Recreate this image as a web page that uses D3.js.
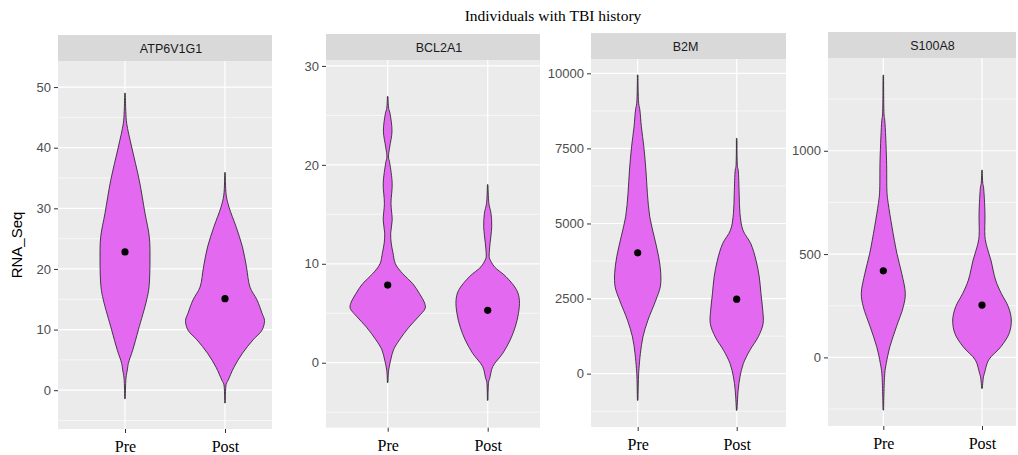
<!DOCTYPE html>
<html>
<head>
<meta charset="utf-8">
<script src="https://cdn.jsdelivr.net/npm/d3@7"></script>
<style>
  body { margin: 0; background: #fff; }
  svg { display: block; }
  .tick text { font-family: "Liberation Sans", Arial, sans-serif; }
</style>
</head>
<body>
<svg id="chart" width="1018" height="455"></svg>
<script>
// ---- data ----
const categories = ['Pre', 'Post'];
const genes = ['ATP6V1G1', 'BCL2A1', 'B2M', 'S100A8'];

// y tick labels per gene
const yTicks = [
  [0, 10, 20, 30, 40, 50],
  [0, 10, 20, 30],
  [0, 2500, 5000, 7500, 10000],
  [0, 500, 1000]
];
// axis limits per gene
const yLimits = [
  [-6.4, 54.3],
  [-6.57, 30.6],
  [-1777, 10477],
  [-332, 1449]
];

// group means (black dots)
const meanPre = [22.8, 7.85, 4022, 419];
const meanPost = [15.1, 5.3, 2478, 253];

// violin outlines: [value, half width as a share of the gap between groups]
const atpPre = [[-1.4, 0.003], [2.0, 0.01], [3.5, 0.025], [4.4, 0.033], [6.6, 0.077], [9.9, 0.133], [14.9, 0.217], [17, 0.24], [21.5, 0.25], [25.3, 0.243], [29.2, 0.2], [34.6, 0.143], [40.1, 0.067], [44, 0.017], [46, 0.008], [49, 0.003]];
const atpPost = [[-2.1, 0.003], [1.0, 0.012], [1.6, 0.03], [3.8, 0.09], [6.1, 0.175], [8.3, 0.28], [9.9, 0.37], [11.5, 0.395], [12.7, 0.37], [14.9, 0.32], [17, 0.25], [20.3, 0.215], [23.6, 0.175], [27, 0.11], [30.2, 0.04], [32.2, 0.012], [35.9, 0.003]];
const bclPre = [[-2.0, 0.003], [-0.74, 0.01], [0.27, 0.03], [1.3, 0.058], [2.3, 0.117], [3.6, 0.213], [4.65, 0.308], [5.5, 0.375], [6.0, 0.37], [7.0, 0.317], [8.0, 0.25], [9.0, 0.15], [10, 0.077], [11.1, 0.053], [12.1, 0.035], [13.1, 0.03], [14.4, 0.045], [16.1, 0.033], [18.1, 0.045], [20.2, 0.02], [20.8, 0.008], [21.8, 0.02], [23.4, 0.043], [25.2, 0.023], [25.7, 0.01], [26.9, 0.003]];
const bclPost = [[-3.8, 0.003], [-1.9, 0.01], [-1.6, 0.02], [-0.4, 0.05], [0.94, 0.15], [2.3, 0.225], [3.6, 0.275], [5.0, 0.308], [6.3, 0.317], [7.3, 0.292], [8.7, 0.183], [9.7, 0.067], [10.5, 0.02], [10.7, 0.015], [11.7, 0.02], [13.75, 0.04], [15.1, 0.033], [16.1, 0.012], [18.0, 0.003]];
const b2mPre = [[-889, 0.003], [-111, 0.008], [167, 0.013], [667, 0.027], [1222, 0.053], [1778, 0.103], [2444, 0.183], [2889, 0.228], [3333, 0.233], [3889, 0.212], [4556, 0.167], [5222, 0.122], [6000, 0.098], [6778, 0.083], [7556, 0.062], [8222, 0.037], [8778, 0.022], [9000, 0.01], [9944, 0.003]];
const b2mPost = [[-1222, 0.003], [-556, 0.015], [-111, 0.033], [333, 0.067], [778, 0.133], [1222, 0.217], [1667, 0.267], [2111, 0.263], [2667, 0.245], [3222, 0.228], [3778, 0.195], [4333, 0.142], [4778, 0.063], [5333, 0.033], [6000, 0.025], [6778, 0.015], [6889, 0.008], [7833, 0.003]];
const s100Pre = [[-255, 0.003], [-77, 0.015], [-29, 0.03], [52, 0.067], [148, 0.133], [245, 0.203], [310, 0.223], [406, 0.187], [503, 0.138], [632, 0.088], [745, 0.05], [794, 0.038], [955, 0.033], [1148, 0.015], [1173, 0.008], [1366, 0.003]];
const s100Post = [[-150, 0.003], [-94, 0.015], [-77, 0.025], [-13, 0.067], [52, 0.192], [116, 0.275], [181, 0.297], [245, 0.267], [310, 0.195], [374, 0.138], [471, 0.09], [535, 0.05], [584, 0.03], [697, 0.03], [826, 0.015], [842, 0.008], [906, 0.003]];

const violinsPre = [atpPre, bclPre, b2mPre, s100Pre];
const violinsPost = [atpPost, bclPost, b2mPost, s100Post];

// ---- layout (pixels) ----
const panels = [
  {left: 58, right: 272, stripTop: 35, top: 61, bottom: 429, preX: 125, postX: 225, labelX: 171},
  {left: 326, right: 540, stripTop: 34, top: 60, bottom: 427.7, preX: 387.7, postX: 487.7, labelX: 439},
  {left: 591, right: 786, stripTop: 33, top: 59, bottom: 427, preX: 637.7, postX: 736.7, labelX: 685.5},
  {left: 828, right: 1016, stripTop: 32, top: 58, bottom: 426, preX: 883.3, postX: 982, labelX: 932.5}
];

const violinFill = '#e36af0';
const svg = d3.select('#chart');

svg.append('text')
  .attr('x', 553)
  .attr('y', 21)
  .attr('text-anchor', 'middle')
  .style('font-family', '"Liberation Serif", "Times New Roman", serif')
  .style('font-size', '15.5px')
  .attr('fill', '#000')
  .text('Individuals with TBI history');

svg.append('text')
  .attr('transform', 'translate(22,245) rotate(-90)')
  .attr('text-anchor', 'middle')
  .style('font-family', '"Liberation Sans", Arial, sans-serif')
  .style('font-size', '15px')
  .attr('fill', '#000')
  .text('RNA_Seq');

genes.forEach((gene, i) => {
  const p = panels[i];
  const g = svg.append('g');

  const y = d3.scaleLinear().domain(yLimits[i]).range([p.bottom, p.top]);
  const x = d3.scalePoint().domain(categories).range([p.preX, p.postX]);
  const w = d3.scaleLinear().domain([0, 1]).range([0, p.postX - p.preX]);

  // panel background
  g.append('rect')
    .attr('x', p.left).attr('y', p.top)
    .attr('width', p.right - p.left).attr('height', p.bottom - p.top)
    .attr('fill', '#ebebeb');

  // strip
  g.append('rect')
    .attr('x', p.left).attr('y', p.stripTop)
    .attr('width', p.right - p.left).attr('height', p.top - p.stripTop)
    .attr('fill', '#d9d9d9');
  g.append('text')
    .attr('x', p.labelX)
    .attr('y', (p.stripTop + p.top) / 2)
    .attr('dy', '0.36em')
    .attr('text-anchor', 'middle')
    .style('font-family', '"Liberation Sans", Arial, sans-serif')
    .style('font-size', '12.5px')
    .attr('fill', '#1a1a1a')
    .text(gene);

  // grid lines: minor halfway between major ticks
  const ticks = yTicks[i];
  const step = ticks[1] - ticks[0];
  const minor = [];
  for (let v = ticks[0] - step / 2; v <= yLimits[i][1]; v += step) {
    if (v >= yLimits[i][0]) minor.push(v);
  }
  g.selectAll('.minor')
    .data(minor)
    .join('line')
    .attr('x1', p.left).attr('x2', p.right)
    .attr('y1', d => y(d)).attr('y2', d => y(d))
    .attr('stroke', '#fff').attr('stroke-width', 0.6);
  g.selectAll('.major')
    .data(ticks)
    .join('line')
    .attr('x1', p.left).attr('x2', p.right)
    .attr('y1', d => y(d)).attr('y2', d => y(d))
    .attr('stroke', '#fff').attr('stroke-width', 1.2);
  g.selectAll('.vgrid')
    .data(categories)
    .join('line')
    .attr('x1', d => x(d)).attr('x2', d => x(d))
    .attr('y1', p.top).attr('y2', p.bottom)
    .attr('stroke', '#fff').attr('stroke-width', 1.2);

  // violins
  const groups = [
    {cat: 'Pre', shape: violinsPre[i], mean: meanPre[i]},
    {cat: 'Post', shape: violinsPost[i], mean: meanPost[i]}
  ];
  groups.forEach(d => {
    const cx = x(d.cat);
    const area = d3.area()
      .curve(d3.curveCatmullRom.alpha(0.5))
      .y(e => y(e[0]))
      .x0(e => cx - w(e[1]))
      .x1(e => cx + w(e[1]));
    g.append('path')
      .attr('d', area(d.shape))
      .attr('fill', violinFill)
      .attr('stroke', '#1a1a1a')
      .attr('stroke-width', 0.8);
    g.append('circle')
      .attr('cx', cx).attr('cy', y(d.mean))
      .attr('r', 3.6)
      .attr('fill', '#000');
  });

  // axes
  const yAxis = d3.axisLeft(y).tickValues(ticks).tickFormat(d3.format('d')).tickSize(4).tickPadding(3);
  const yAxisG = g.append('g')
    .attr('transform', `translate(${p.left},0)`)
    .call(yAxis);
  yAxisG.select('.domain').remove();
  yAxisG.selectAll('.tick line').attr('stroke', '#333');
  yAxisG.selectAll('.tick text')
    .attr('fill', '#4d4d4d')
    .style('font-size', '13px');

  const xAxis = d3.axisBottom(x).tickSize(4).tickPadding(7.5);
  const xAxisG = g.append('g')
    .attr('transform', `translate(0,${p.bottom})`)
    .call(xAxis);
  xAxisG.select('.domain').remove();
  xAxisG.selectAll('.tick line').attr('stroke', '#333');
  xAxisG.selectAll('.tick text')
    .attr('fill', '#000')
    .style('font-family', '"Liberation Serif", "Times New Roman", serif')
    .style('font-size', '16px');
});
</script>
</body>
</html>
